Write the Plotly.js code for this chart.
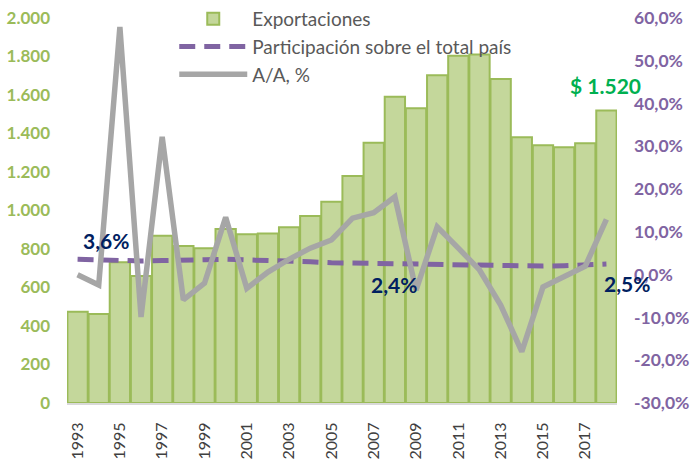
<!DOCTYPE html>
<html>
<head>
<meta charset="utf-8">
<script src="https://cdn.plot.ly/plotly-3.0.1.min.js"></script>
<style>html,body{margin:0;padding:0;background:#fff;}#chart{width:697px;height:460px;}</style>
</head>
<body>
<div id="chart"></div>
<script>
var years = [1993,1994,1995,1996,1997,1998,1999,2000,2001,2002,2003,2004,2005,2006,2007,2008,2009,2010,2011,2012,2013,2014,2015,2016,2017,2018];
var exportaciones = [474,462,731,660,869,816,804,904,876,881,913,971,1046,1179,1352,1591,1531,1702,1804,1811,1683,1380,1339,1328,1349,1520];
var participacion = [3.6,3.4,3.3,3.2,3.3,3.3,3.5,3.6,3.5,3.4,3.2,3.0,2.8,2.7,2.6,2.5,2.4,2.4,2.3,2.1,2.0,1.9,2.0,2.1,2.3,2.5];
var variacionAA = [0.0,-2.4,57.9,-9.9,32.2,-5.9,-2.0,13.4,-3.2,0.6,3.6,6.2,8.1,13.2,14.5,18.2,-3.6,11.2,6.2,1.1,-7.1,-18.0,-2.9,-0.5,2.0,12.9];
var leftTickVals = [0,200,400,600,800,1000,1200,1400,1600,1800,2000];
var leftTickText = ["0","200","400","600","800","1.000","1.200","1.400","1.600","1.800","2.000"];
var rightTickVals = [-30,-20,-10,0,10,20,30,40,50,60];
var rightTickText = ["-30,0%","-20,0%","-10,0%","0,0%","10,0%","20,0%","30,0%","40,0%","50,0%","60,0%"];
var xTickVals = [1993,1995,1997,1999,2001,2003,2005,2007,2009,2011,2013,2015,2017];
var labelsPart = [{year:1993, text:"3,6%"},{year:2009, text:"2,4%"},{year:2018, text:"2,5%"}];
var labelExport = {year:2018, text:"$ 1.520"};

var FONT = "Lato, 'Open Sans', sans-serif";

var traces = [
  {type:'bar', name:'Exportaciones', x:years, y:exportaciones,
   marker:{color:'#C4D79B', line:{color:'#9BBB59', width:2}}, yaxis:'y'},
  {type:'scatter', mode:'lines', name:'Participación sobre el total país', x:years, y:participacion,
   line:{color:'#8064A2', width:5, dash:'16px,9px'}, yaxis:'y2'},
  {type:'scatter', mode:'lines', name:'A/A, %', x:years, y:variacionAA,
   line:{color:'#A6A6A6', width:5.5}, yaxis:'y2'}
];

var annotations = [];
var partOffsets = {1993:[28,19], 2009:[-22,-20], 2018:[21,-20]};
labelsPart.forEach(function(l){
  var i = years.indexOf(l.year);
  annotations.push({x:l.year, y:participacion[i], xref:'x', yref:'y2', text:'<b>'+l.text+'</b>',
    showarrow:false, xshift:partOffsets[l.year][0], yshift:partOffsets[l.year][1],
    font:{family:FONT, size:21, color:'#002060'}});
});
(function(){
  var i = years.indexOf(labelExport.year);
  annotations.push({x:labelExport.year, y:exportaciones[i], xref:'x', yref:'y', text:'<b>'+labelExport.text+'</b>',
    showarrow:false, xshift:-1, yshift:25, font:{family:FONT, size:21, color:'#00B050'}});
})();

var layout = {
  width:697, height:460,
  margin:{l:67, r:80, t:18, b:57, pad:0, autoexpand:false},
  paper_bgcolor:'#fff', plot_bgcolor:'rgba(0,0,0,0)',
  font:{family:FONT, color:'#595959'},
  bargap:0.04,
  showlegend:true,
  legend:{x:0.195, y:1.0, yref:'container', xanchor:'left', yanchor:'top', bgcolor:'rgba(0,0,0,0)',
    font:{family:FONT, size:19, color:'#595959'}, tracegroupgap:0, itemwidth:68},
  xaxis:{range:[1992.5,2018.5], tickmode:'array', tickvals:xTickVals, ticktext:xTickVals.map(String),
    tickangle:-90, showgrid:false, zeroline:false, showline:true, linecolor:'#D9D9D9', linewidth:2,
    ticks:'', ticklabelstandoff:11, tickfont:{family:FONT, size:16, color:'#404040'}},
  yaxis:{range:[0,2000], tickmode:'array', tickvals:leftTickVals, ticktext:leftTickText,
    showgrid:false, zeroline:false, showline:false, ticks:'', ticklabelstandoff:16,
    tickfont:{family:FONT, size:17, color:'#9BBB59', weight:'bold'}},
  yaxis2:{range:[-30,60], overlaying:'y', side:'right', tickmode:'array', tickvals:rightTickVals, ticktext:rightTickText,
    showgrid:false, zeroline:false, showline:false, ticks:'', ticklabelstandoff:16,
    tickfont:{family:FONT, size:17.5, color:'#8064A2', weight:'bold'}},
  annotations:annotations
};

Plotly.newPlot('chart', traces, layout, {displayModeBar:false, staticPlot:true});
</script>
</body>
</html>
